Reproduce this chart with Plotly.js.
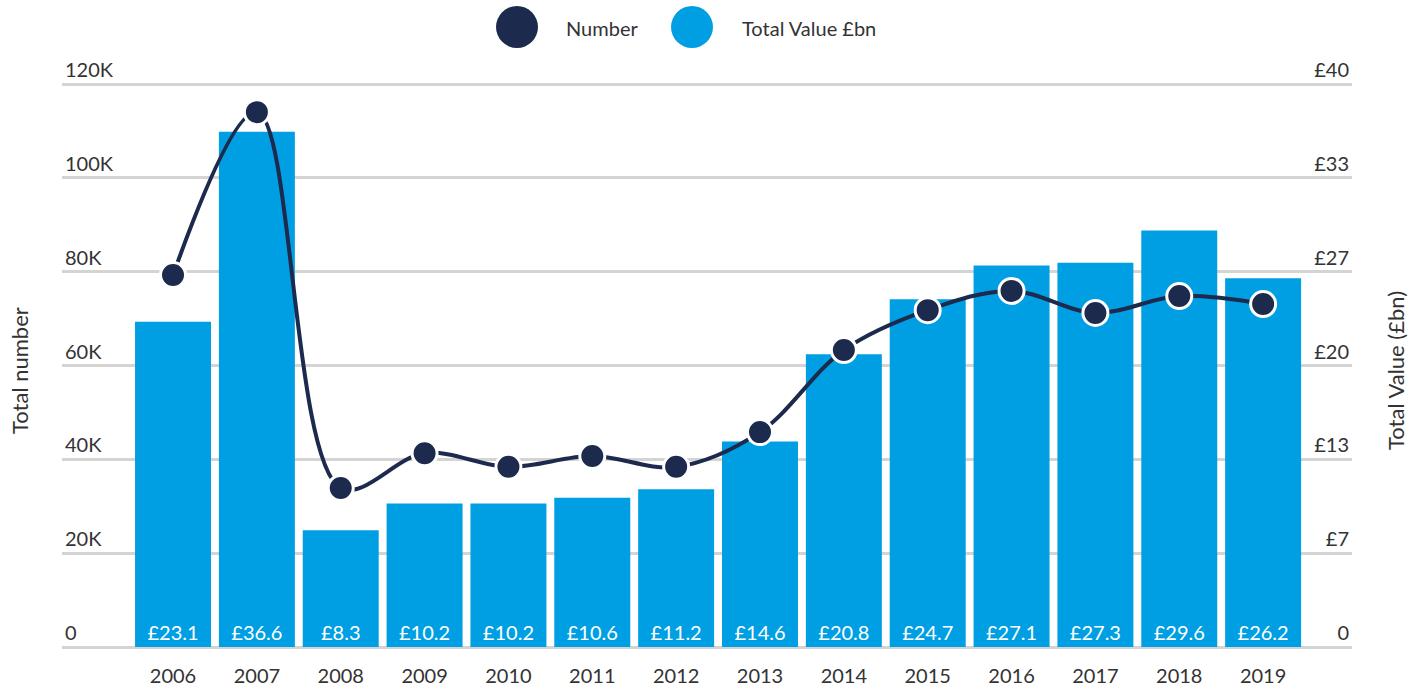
<!DOCTYPE html>
<html>
<head>
<meta charset="utf-8">
<script src="https://cdn.plot.ly/plotly-3.0.1.min.js"></script>
<style>html,body{margin:0;padding:0;background:#fff;}#chart{width:1422px;height:689px;}</style>
</head>
<body>
<div id="chart"></div>
<script>
const years = ['2006','2007','2008','2009','2010','2011','2012','2013','2014','2015','2016','2017','2018','2019'];
const totalValue = [23.1, 36.6, 8.3, 10.2, 10.2, 10.6, 11.2, 14.6, 20.8, 24.7, 27.1, 27.3, 29.6, 26.2];
const totalNumber = [79300, 114000, 33900, 41300, 38400, 40700, 38400, 45800, 63300, 71800, 75900, 71200, 74800, 73100];
const leftTickVals = [0, 20000, 40000, 60000, 80000, 100000, 120000];
const leftTickText = ['0', '20K', '40K', '60K', '80K', '100K', '120K'];
const rightTickVals = [0, 40/6, 80/6, 20, 160/6, 200/6, 40];
const rightTickText = ['0', '£7', '£13', '£20', '£27', '£33', '£40'];
const seriesNames = ['Number', 'Total Value £bn'];
const axisTitles = ['Total number', 'Total Value (£bn)'];

const navy = '#1c2a4e';
const blue = '#009fe3';
const font = 'Lato, "Open Sans", sans-serif';

// plot geometry (pixels)
const plotBottom = 647, plotH = 592, plotLeft = 62, plotW = 1290;
const ext = plotH / 563;  // headroom so the top tick labels sit inside the plot area
const py = (pix) => (plotBottom - pix) / plotH;
const px = (pix) => (pix - plotLeft) / plotW;

const bars = {
  type: 'bar', x: years, y: totalValue, yaxis: 'y', name: seriesNames[1],
  marker: {color: blue},
  texttemplate: '£%{y:.1f}', textposition: 'inside', insidetextanchor: 'start',
  textangle: 0, constraintext: 'none',
  textfont: {color: '#ffffff', size: 20, family: font}
};
const line = {
  type: 'scatter', mode: 'lines+markers', x: years, y: totalNumber, yaxis: 'y2', name: seriesNames[0],
  line: {color: navy, width: 4, shape: 'spline', smoothing: 1},
  marker: {color: navy, size: 25, line: {color: '#ffffff', width: 3}}
};

const layout = {
  width: 1422, height: 689,
  margin: {l: plotLeft, r: 1422 - plotLeft - plotW, t: 689 - 42 - plotH, b: 42},
  paper_bgcolor: '#ffffff', plot_bgcolor: '#ffffff',
  showlegend: false,
  bargap: 0.094,
  font: {family: font, color: '#333333', size: 20},
  xaxis: {
    type: 'category', range: [-1.324, 14.06], showgrid: false, zeroline: false,
    showline: false, ticks: '', tickfont: {size: 20, color: '#333333'}, ticklabelstandoff: 15
  },
  yaxis: {
    side: 'right', range: [0, 40 * ext], tickvals: rightTickVals, ticktext: rightTickText,
    ticklabelposition: 'inside top', showgrid: true, gridcolor: '#d4d4d4', gridwidth: 3,
    zeroline: true, zerolinecolor: '#d4d4d4', zerolinewidth: 3, showline: false, ticks: '',
    tickfont: {size: 20, color: '#333333'}
  },
  yaxis2: {
    overlaying: 'y', side: 'left', range: [0, 120000 * ext], tickvals: leftTickVals, ticktext: leftTickText,
    ticklabelposition: 'inside top', showgrid: false, zeroline: false, showline: false, ticks: '',
    tickfont: {size: 20, color: '#333333'}
  },
  shapes: [
    {type: 'circle', xref: 'paper', yref: 'paper', xsizemode: 'pixel', ysizemode: 'pixel',
     xanchor: px(517), yanchor: py(27), x0: -21, x1: 21, y0: -21, y1: 21,
     fillcolor: navy, line: {width: 0}},
    {type: 'circle', xref: 'paper', yref: 'paper', xsizemode: 'pixel', ysizemode: 'pixel',
     xanchor: px(692), yanchor: py(27), x0: -21, x1: 21, y0: -21, y1: 21,
     fillcolor: blue, line: {width: 0}}
  ],
  annotations: [
    {xref: 'paper', yref: 'paper', x: px(564), y: py(28), xanchor: 'left', yanchor: 'middle',
     text: seriesNames[0], showarrow: false, font: {size: 20, color: '#333333'}},
    {xref: 'paper', yref: 'paper', x: px(740), y: py(28), xanchor: 'left', yanchor: 'middle',
     text: seriesNames[1], showarrow: false, font: {size: 20, color: '#333333'}},
    {xref: 'paper', yref: 'paper', x: px(19), y: py(371), xanchor: 'center', yanchor: 'middle',
     textangle: -90, text: axisTitles[0], showarrow: false, font: {size: 22, color: '#333333'}},
    {xref: 'paper', yref: 'paper', x: px(1395), y: py(371), xanchor: 'center', yanchor: 'middle',
     textangle: -90, text: axisTitles[1], showarrow: false, font: {size: 22, color: '#333333'}}
  ]
};

Plotly.newPlot('chart', [bars, line], layout, {displayModeBar: false, staticPlot: true});
</script>
</body>
</html>
